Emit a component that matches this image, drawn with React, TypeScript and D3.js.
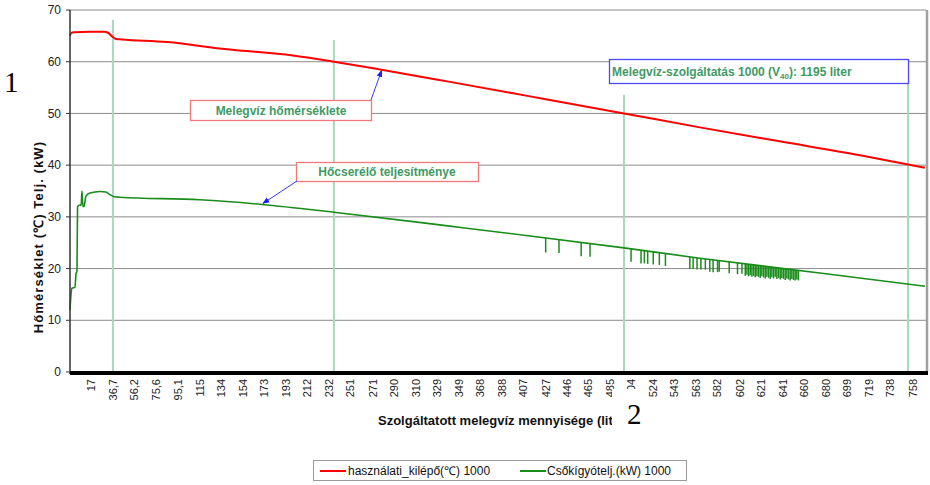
import React from "react";
import * as d3 from "d3";

// ---- data ----
const xTickLabels = ["17","36,7","56,2","75,6","95,1","115","134","154","173","193","212","232","251","271","290","310","329","349","368","388","407","427","446","465","485","504","524","543","563","582","602","621","641","660","680","699","719","738","758"];
const yTicks = [0, 10, 20, 30, 40, 50, 60, 70];

const redLiters = [-2, -1.1, 1.6, 16, 28.7, 32.3, 35.9, 39.5, 44.9, 85.5, 139.6, 199, 236, 277.6, 340.7, 412.9, 497.6, 566, 638, 710.5, 769];
const redValues = [65.0, 65.5, 65.7, 65.8, 65.8, 65.6, 64.9, 64.4, 64.3, 63.8, 62.4, 61.2, 60.0, 58.5, 56.1, 53.3, 50.0, 47.3, 44.6, 41.9, 39.5];

const greenLiters = [-2, -1.1, -0.2, 2.5, 3.4, 4.3, 4.8, 7, 8, 8.8, 9.7, 10.6, 12.4, 16, 25, 30.5, 34, 37.7, 43, 115, 171, 236, 340.7, 405.8, 497.6, 566, 676, 769];
const greenValues = [12.0, 15.0, 16.2, 16.4, 19.0, 19.5, 32.0, 32.3, 32.2, 35.0, 32.0, 32.0, 34.0, 34.6, 34.9, 34.8, 34.3, 33.9, 33.8, 33.3, 32.4, 30.9, 28.2, 26.5, 24.0, 22.0, 19.1, 16.6];

const dipLiters = [427, 439, 459, 467, 504, 513, 516, 519, 524, 529.5, 535, 557, 560, 563.5, 567, 571, 575, 578, 582, 583.5, 592.5, 600, 604, 607, 608.5, 610, 611.5, 613, 614.5, 616, 617.5, 619, 620.5, 622, 623.5, 625, 626.5, 628, 629.5, 631, 632.5, 634, 635.5, 637, 638.5, 640, 641.5, 643, 644.5, 646, 647.5, 649, 650.5, 652, 653.5, 655];
const dipValues = [23.1, 23.0, 22.4, 22.3, 21.3, 21.0, 21.0, 20.9, 20.8, 20.7, 20.5, 19.9, 19.9, 19.8, 19.8, 19.8, 19.4, 19.3, 19.3, 19.4, 19.1, 18.9, 19.0, 18.6, 18.8, 18.5, 18.7, 18.4, 18.6, 18.3, 18.5, 18.4, 18.2, 18.5, 18.3, 18.1, 18.4, 18.2, 18.0, 18.3, 18.1, 18.4, 18.0, 18.2, 17.9, 18.2, 18.0, 17.8, 18.1, 17.9, 17.7, 18.0, 17.8, 17.7, 17.9, 17.7];

const markerLiters = [36.7, 236, 497.6, 753.8];
const markerTops = [68.1, 64.2, 53.6, 60.3];

const seriesNames = ["használati_kilépő(℃) 1000", "Csőkígyótelj.(kW) 1000"];
const seriesColors = ["#ff0000", "#1a8c1a"];

const FONT = "'Liberation Sans', Arial, sans-serif";
const ANNO_GREEN = "#3f9a66";

function interp(ls: number[], vs: number[], l: number) {
  const i = d3.bisectLeft(ls, l);
  if (i <= 0) return vs[0];
  if (i >= ls.length) return vs[vs.length - 1];
  const t = (l - ls[i - 1]) / (ls[i] - ls[i - 1]);
  return vs[i - 1] + t * (vs[i] - vs[i - 1]);
}

export default function App() {
  const left = 70, right = 926, top = 10, bottom = 372;
  const x = d3.scaleLinear().domain([-2, 770]).range([left, right]);
  const y = d3.scaleLinear().domain([0, 70]).range([bottom, top]);

  const line = d3
    .line<[number, number]>()
    .x((d) => x(d[0]))
    .y((d) => y(d[1]))
    .curve(d3.curveMonotoneX);

  const redPts = redLiters.map((l, i) => [l, redValues[i]] as [number, number]);
  const greenPts = greenLiters.map((l, i) => [l, greenValues[i]] as [number, number]);

  const redArrowTarget: [number, number] = [x(279), y(58.3)];
  const greenArrowTarget: [number, number] = [x(172), y(32.6)];

  return (
    <svg
      width={930}
      height={485}
      style={{ position: "absolute", left: 0, top: 0, background: "#fff" }}
      fontFamily={FONT}
    >
      <defs>
        <marker id="arrowBlue" viewBox="0 0 10 10" refX="9" refY="5" markerWidth="7" markerHeight="7" orient="auto">
          <path d="M0,1 L10,5 L0,9 z" fill="#1a1aff" />
        </marker>
      </defs>

      {/* grid */}
      {yTicks.map((t) => (
        <line key={"g" + t} x1={left} x2={right} y1={y(t)} y2={y(t)} stroke="#8c8c8c" strokeWidth={1} />
      ))}
      <line x1={right + 1} x2={right + 1} y1={top} y2={bottom} stroke="#a0a0a0" strokeWidth={2.5} />

      {/* marker vertical lines */}
      {markerLiters.map((l, i) => (
        <line key={"m" + i} x1={x(l)} x2={x(l)} y1={y(markerTops[i])} y2={bottom} stroke="#a6d9bd" strokeWidth={2} />
      ))}

      {/* series */}
      <path d={line(redPts) || ""} fill="none" stroke={seriesColors[0]} strokeWidth={2} />
      <path d={line(greenPts) || ""} fill="none" stroke={seriesColors[1]} strokeWidth={1.6} />
      {dipLiters.map((l, i) => (
        <line
          key={"d" + i}
          x1={x(l)}
          x2={x(l)}
          y1={y(interp(greenLiters, greenValues, l))}
          y2={y(dipValues[i])}
          stroke={seriesColors[1]}
          strokeWidth={1.5}
        />
      ))}

      {/* axes */}
      <line x1={left} x2={left} y1={top} y2={bottom + 2} stroke="#333" strokeWidth={1.5} />
      {yTicks.map((t) => (
        <g key={"yt" + t}>
          <line x1={left - 4} x2={left} y1={y(t)} y2={y(t)} stroke="#333" />
          <text x={left - 9} y={y(t)} dy="0.35em" textAnchor="end" fontSize={12} fill="#222">
            {t}
          </text>
        </g>
      ))}
      <rect x={left} y={bottom - 1} width={right - left + 2} height={4} fill="#000" />
      {xTickLabels.map((lab) => {
        const v = parseFloat(lab.replace(",", "."));
        return (
          <text
            key={"xt" + lab}
            transform={`translate(${x(v)},379) rotate(-90)`}
            dy="0.35em"
            textAnchor="end"
            fontSize={11}
            fill="#222"
          >
            {lab}
          </text>
        );
      })}

      <text transform="translate(38,237) rotate(-90)" textAnchor="middle" fontSize={13} letterSpacing={1.1} fontWeight="bold" fill="#111" dy="0.35em">
        Hőmérséklet (℃) Telj. (kW)
      </text>
      <text x={378} y={425} fontSize={13} fontWeight="bold" fill="#111">
        Szolgáltatott melegvíz mennyisége (liter)
      </text>

      {/* annotations */}
      <rect x={190.5} y={100.5} width={181} height={20} fill="#fff" stroke="#f07a7a" strokeWidth={1.3} />
      <text x={281} y={115} textAnchor="middle" fontSize={12} fontWeight="bold" fill={ANNO_GREEN}>
        Melegvíz hőmérséklete
      </text>
      <line x1={371} y1={100} x2={redArrowTarget[0]} y2={redArrowTarget[1]} stroke="#3a3aff" strokeWidth={1} markerEnd="url(#arrowBlue)" />

      <rect x={296.5} y={162.5} width={182} height={19} fill="#fff" stroke="#f07a7a" strokeWidth={1.3} />
      <text x={387} y={176} textAnchor="middle" fontSize={12} fontWeight="bold" fill={ANNO_GREEN}>
        Hőcserélő teljesítménye
      </text>
      <line x1={297} y1={181} x2={greenArrowTarget[0]} y2={greenArrowTarget[1]} stroke="#3a3aff" strokeWidth={1} markerEnd="url(#arrowBlue)" />

      <rect x={609.5} y={59.5} width={299} height={24} fill="#fff" stroke="#4a4aff" strokeWidth={1.3} />
      <text x={612} y={76} fontSize={12} fontWeight="bold" fill={ANNO_GREEN}>
        Melegvíz-szolgáltatás 1000 (V
        <tspan fontSize={8} dy={3}>40</tspan>
        <tspan dy={-3}>): 1195 liter</tspan>
      </text>

      {/* overlay numbers */}
      <text x={4} y={92} fontFamily="'Liberation Serif', 'Times New Roman', serif" fontSize={29} fill="#000">
        1
      </text>
      <rect x={612} y={389} width={32} height={45} fill="#fff" />
      <text x={627} y={424} fontFamily="'Liberation Serif', 'Times New Roman', serif" fontSize={29} fill="#000">
        2
      </text>

      {/* legend */}
      <rect x={313.5} y={460.5} width={373} height={20} fill="#fff" stroke="#9a9a9a" strokeWidth={1} />
      <line x1={320} x2={346} y1={471} y2={471} stroke={seriesColors[0]} strokeWidth={2} />
      <text x={348} y={475} fontSize={12} fill="#111">
        {seriesNames[0]}
      </text>
      <line x1={520} x2={546} y1={471} y2={471} stroke={seriesColors[1]} strokeWidth={2} />
      <text x={547} y={475} fontSize={12} fill="#111">
        {seriesNames[1]}
      </text>
    </svg>
  );
}
